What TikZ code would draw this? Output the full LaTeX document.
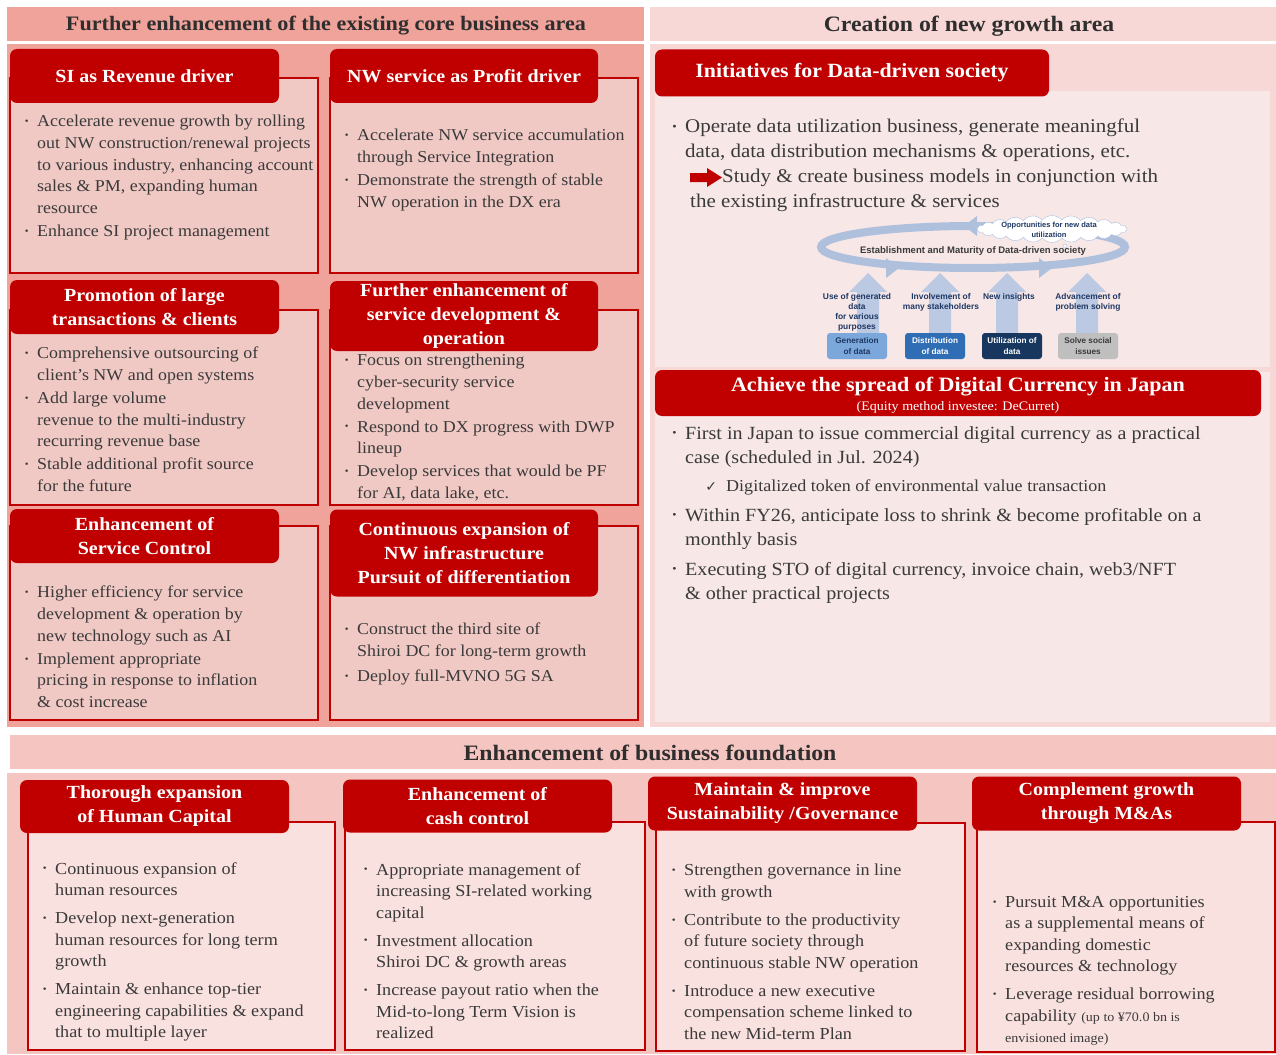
\documentclass[tikz,border=0pt]{standalone}
\usepackage{fontspec}
\usepackage{graphicx}
\setmainfont[FakeStretch=1.08]{Liberation Serif}
\newfontfamily\diagfont{Liberation Sans}
\newfontfamily\symfont{DejaVu Sans}
\usetikzlibrary{shapes.symbols}
\definecolor{coreRed}{HTML}{C00000}
\definecolor{salmon}{HTML}{F0A39B}
\definecolor{salmonBox}{HTML}{F0C9C5}
\definecolor{rosy}{HTML}{F8D8D6}
\definecolor{paleRose}{HTML}{F7E7E7}
\definecolor{bandPink}{HTML}{F5C5C1}
\definecolor{lowBox}{HTML}{F9E1DF}
\definecolor{txtGrey}{HTML}{3A3A3A}
\definecolor{hdrGrey}{HTML}{2E2E2E}
\definecolor{ringBlue}{HTML}{AFC0DD}
\definecolor{navyTxt}{HTML}{1F3864}
\definecolor{genBlue}{HTML}{7BA7DB}
\definecolor{disBlue}{HTML}{2F6DB5}
\definecolor{utilBlue}{HTML}{17375E}
\definecolor{solveGrey}{HTML}{BFBFBF}
\newcommand{\bl}{\llap{\raisebox{0.3ex}{\scalebox{0.6}{•}}\hspace{8.5pt}}}

\begin{document}
\begin{tikzpicture}[x=1pt,y=-1pt]
\useasboundingbox (0,0) rectangle (1276,1054);
\fill[white] (0,0) rectangle (1276,1054);
\tikzstyle{hdr}=[inner sep=0pt, text=hdrGrey, font=\bfseries\fontsize{22}{24}\selectfont]
\tikzstyle{ttl}=[fill=coreRed, rounded corners=7pt, inner sep=0pt, align=center,
			text=white, font=\bfseries\fontsize{18.5}{24}\selectfont]
\tikzstyle{leftbox}=[draw=coreRed, line width=2.5pt, fill=salmonBox]
\tikzstyle{lowbox}=[draw=coreRed, line width=2.5pt, fill=lowBox]
\tikzstyle{bodytxt}=[anchor=north west, inner sep=0pt, align=left, text=txtGrey,
			font=\fontsize{16.6}{21.7}\selectfont]
\tikzstyle{bigtxt}=[anchor=north west, inner sep=0pt, align=left, text=txtGrey,
			font=\fontsize{19.4}{25}\selectfont]
\tikzstyle{dctxt}=[anchor=north west, inner sep=0pt, align=left, text=txtGrey,
			font=\fontsize{18.6}{24}\selectfont]
\tikzstyle{lowtxt}=[anchor=north west, inner sep=0pt, align=left, text=txtGrey,
			font=\fontsize{16.8}{21.5}\selectfont]
\tikzstyle{upArrow}=[fill=ringBlue!85!white]
\tikzstyle{stage}=[rounded corners=3pt, minimum width=60, minimum height=26, inner sep=0pt,
			align=center, font=\diagfont\bfseries\fontsize{8.2}{10.5}\selectfont]
\tikzstyle{diagLbl}=[inner sep=0pt, align=center, text=navyTxt,
			font=\diagfont\bfseries\fontsize{8.4}{10}\selectfont]

% section backgrounds
\fill[salmon] (7,7) rectangle (644,41);
\fill[salmon] (7,44) rectangle (644,727);
\fill[rosy] (650,7) rectangle (1276,41);
\fill[rosy] (650,44) rectangle (1276,727);
\fill[paleRose] (655,91) rectangle (1270,367);
\fill[paleRose] (655,372) rectangle (1270,722);
\fill[bandPink] (10,735) rectangle (1276,769);
\fill[bandPink] (7,773) rectangle (1276,1054);

\node[hdr, font=\bfseries\fontsize{20.5}{24}\selectfont] (coreHdr) at (326,26) {Further enhancement of the existing core business area};
\node[hdr] (newHdr) at (969,26) {Creation of new growth area};
\node[hdr] (baseHdr) at (650,753) {Enhancement of business foundation};

% core business boxes
\draw[leftbox] (10,78) rectangle (318,273);
\draw[leftbox] (330,78) rectangle (638,273);
\draw[leftbox] (10,310) rectangle (318,505);
\draw[leftbox] (330,310) rectangle (638,505);
\draw[leftbox] (10,526) rectangle (318,720);
\draw[leftbox] (330,526) rectangle (638,720);

\node[ttl, minimum width=269, minimum height=54] (siT) at (144.5,76) {SI as Revenue driver};
\node[ttl, minimum width=268, minimum height=54] (nwT) at (464,76) {NW service as Profit driver};
\node[ttl, minimum width=269, minimum height=54] (promoT) at (144.5,307) {Promotion of large\\transactions \& clients};
\node[ttl, minimum width=268, minimum height=70] (devT) at (464,316) {Further enhancement of\\service development \&\\operation};
\node[ttl, minimum width=269, minimum height=54] (ctlT) at (144.5,536) {Enhancement of\\Service Control};
\node[ttl, minimum width=268, minimum height=87] (infraT) at (464,553) {Continuous expansion of\\NW infrastructure\\Pursuit of differentiation};

\node[bodytxt] (siTxt) at (37,115) {\bl Accelerate revenue growth by rolling\\out NW construction/renewal projects\\to various industry, enhancing account\\sales \& PM, expanding human\\resource\\[1.3pt]\bl Enhance SI project management};
\node[bodytxt] (nwTxt) at (357,129) {\bl Accelerate NW service accumulation\\through Service Integration\\[1.3pt]\bl Demonstrate the strength of stable\\NW operation in the DX era};
\node[bodytxt] (promoTxt) at (37,347) {\bl Comprehensive outsourcing of\\client’s NW and open systems\\[1.3pt]\bl Add large volume\\revenue to the multi-industry\\recurring revenue base\\[1.3pt]\bl Stable additional profit source\\for the future};
\node[bodytxt] (devTxt) at (357,354) {\bl Focus on strengthening\\cyber-security service\\development\\[1.3pt]\bl Respond to DX progress with DWP\\lineup\\[1.3pt]\bl Develop services that would be PF\\for AI, data lake, etc.};
\node[bodytxt] (ctlTxt) at (37,586) {\bl Higher efficiency for service\\development \& operation by\\new technology such as AI\\[1.3pt]\bl Implement appropriate\\pricing in response to inflation\\\& cost increase};
\node[bodytxt] (infraTxt) at (357,623) {\bl Construct the third site of\\Shiroi DC for long-term growth\\[3pt]\bl Deploy full-MVNO 5G SA};

% new growth area
\node[ttl, minimum width=394, minimum height=47, font=\bfseries\fontsize{20.2}{24}\selectfont] (dataT) at (852,73) {Initiatives for Data-driven society};

\node[bigtxt] (dataTxt) at (685,119) {\bl Operate data utilization business, generate meaningful\\data, data distribution mechanisms \& operations, etc.};
\fill[coreRed] (690,173) -- (707,173) -- (707,168) -- (722,177.5) -- (707,187) -- (707,182) -- (690,182) -- cycle;
\node[bigtxt] (studyTxt) at (722,169) {Study \& create business models in conjunction with};
\node[bigtxt] (studyTxt2) at (690,194) {the existing infrastructure \& services};

\draw[ringBlue, line width=8pt] (973,247) ellipse (152 and 21);
\fill[ringBlue] (886,258) -- (899,268) -- (886,278) -- cycle;
\fill[ringBlue] (1039,258) -- (1052,268) -- (1039,278) -- cycle;
\fill[ringBlue] (977,216) -- (964,226) -- (977,236) -- cycle;
\node[diagLbl, text=txtGrey, font=\diagfont\bfseries\fontsize{9.5}{11}\selectfont] (ringTxt) at (973,251) {Establishment and Maturity of Data-driven society};
\node[cloud, cloud puffs=24, cloud puff arc=100, aspect=5.5, draw=ringBlue, fill=white, inner sep=0pt,
	minimum width=150, minimum height=27] (oppCloud) at (1052,229) {};
\node[diagLbl, font=\diagfont\bfseries\fontsize{7.5}{10}\selectfont] (oppTxt) at (1049,229.5) {Opportunities for new data\\utilization};
\fill[white, draw=ringBlue] (1065,246) circle (2);

\fill[upArrow] (857,333) -- (857,292) -- (849,292) -- (868,273) -- (887,292) -- (879,292) -- (879,333) -- cycle;
\fill[upArrow] (929,333) -- (929,292) -- (921,292) -- (940,273) -- (959,292) -- (951,292) -- (951,333) -- cycle;
\fill[upArrow] (996,333) -- (996,292) -- (988,292) -- (1007,273) -- (1026,292) -- (1018,292) -- (1018,333) -- cycle;
\fill[upArrow] (1076,333) -- (1076,292) -- (1068,292) -- (1087,273) -- (1106,292) -- (1098,292) -- (1098,333) -- cycle;

\node[diagLbl] (useLbl) at (857,312) {Use of generated\\data\\for various\\purposes};
\node[diagLbl] (invLbl) at (941,302) {Involvement of\\many stakeholders};
\node[diagLbl] (insLbl) at (1009,297) {New insights};
\node[diagLbl] (advLbl) at (1088,302) {Advancement of\\problem solving};

\node[stage, fill=genBlue, text=navyTxt] (genBox) at (857,346) {Generation\\of data};
\node[stage, fill=disBlue, text=white] (disBox) at (935,346) {Distribution\\of data};
\node[stage, fill=utilBlue, text=white] (utilBox) at (1012,346) {Utilization of\\data};
\node[stage, fill=solveGrey, text=txtGrey] (solveBox) at (1088,346) {Solve social\\issues};

\node[ttl, minimum width=606, minimum height=46] (dcT) at (958,393) {};
\node[inner sep=0pt, text=white, font=\bfseries\fontsize{20.4}{22}\selectfont] (dcTitle) at (958,387) {Achieve the spread of Digital Currency in Japan};
\node[inner sep=0pt, text=white, font=\fontsize{13}{14}\selectfont] (dcSub) at (958,407) {(Equity method investee: DeCurret)};

\node[dctxt] (dcTxt1) at (685,426) {\bl First in Japan to issue commercial digital currency as a practical\\case (scheduled in Jul. 2024)};
\node[bodytxt, font=\fontsize{16.7}{21}\selectfont] (dcChk) at (726,480) {\llap{{\symfont\fontsize{14}{14}\selectfont ✓}\hspace{9pt}}Digitalized token of environmental value transaction};
\node[dctxt] (dcTxt2) at (685,508) {\bl Within FY26, anticipate loss to shrink \& become profitable on a\\monthly basis};
\node[dctxt] (dcTxt3) at (685,562) {\bl Executing STO of digital currency, invoice chain, web3/NFT\\\& other practical projects};

% business foundation boxes
\draw[lowbox] (28,822) rectangle (335,1050);
\draw[lowbox] (345,822) rectangle (645,1050);
\draw[lowbox] (656,823) rectangle (965,1051);
\draw[lowbox] (977,822) rectangle (1275,1052);

\node[ttl, minimum width=269, minimum height=53] (humanT) at (154.5,806.5) {Thorough expansion\\of Human Capital};
\node[ttl, minimum width=269, minimum height=53] (cashT) at (477.5,806) {Enhancement of\\cash control};
\node[ttl, minimum width=269, minimum height=54] (govT) at (782.5,803.5) {Maintain \& improve\\Sustainability /Governance};
\node[ttl, minimum width=269, minimum height=54] (maT) at (1106.5,803.5) {Complement growth\\through M\&As};

\node[lowtxt] (humanTxt) at (55,862) {\bl Continuous expansion of\\human resources\\[6.5pt]\bl Develop next-generation\\human resources for long term\\growth\\[6.5pt]\bl Maintain \& enhance top-tier\\engineering capabilities \& expand\\that to multiple layer};
\node[lowtxt] (cashTxt) at (376,863) {\bl Appropriate management of\\increasing SI-related working\\capital\\[6.5pt]\bl Investment allocation\\Shiroi DC \& growth areas\\[6.5pt]\bl Increase payout ratio when the\\Mid-to-long Term Vision is\\realized};
\node[lowtxt] (govTxt) at (684,864) {\bl Strengthen governance in line\\with growth\\[6.5pt]\bl Contribute to the productivity\\of future society through\\continuous stable NW operation\\[6.5pt]\bl Introduce a new executive\\compensation scheme linked to\\the new Mid-term Plan};
\node[lowtxt] (maTxt) at (1005,896) {\bl Pursuit M\&A opportunities\\as a supplemental means of\\expanding domestic\\resources \& technology\\[6.5pt]\bl Leverage residual borrowing\\capability {\fontsize{13}{14}\selectfont (up to ¥70.0 bn is}\\{\fontsize{13}{14}\selectfont envisioned image)}};

\end{tikzpicture}
\end{document}
